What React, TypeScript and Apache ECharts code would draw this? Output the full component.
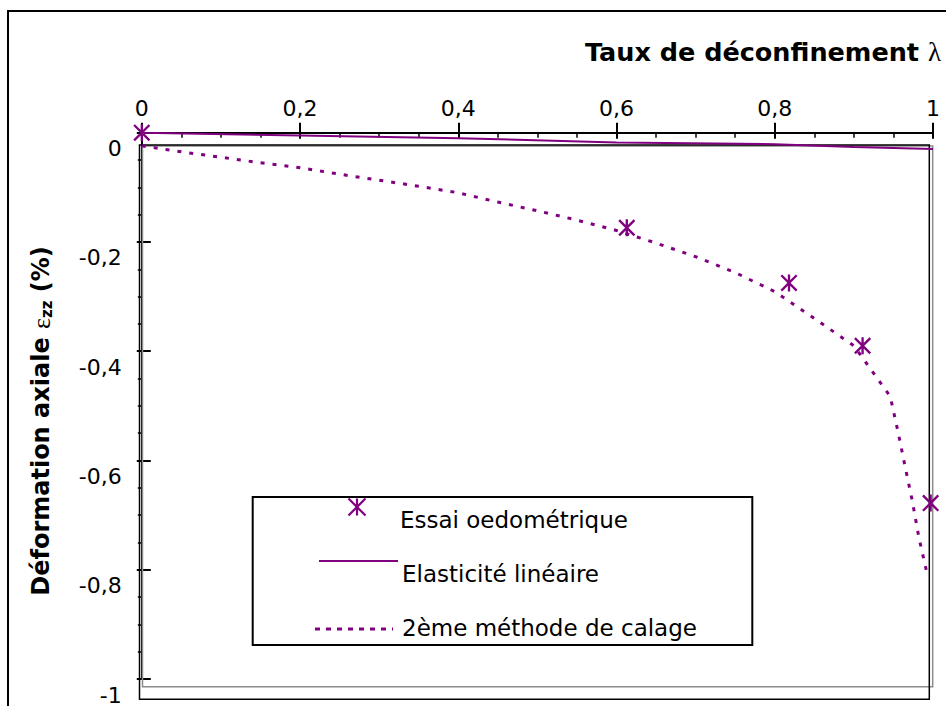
import React, { useEffect, useRef } from "react";
import * as echarts from "echarts";

// ---- Data ----
const essaiLambda = [0, 0.613, 0.818, 0.911, 0.997];
const essaiEps = [0, -0.174, -0.275, -0.39, -0.678];

const elasLambda = [0, 0.2, 0.4, 0.6, 0.8, 0.9, 1];
const elasEps = [0, -0.005, -0.01, -0.018, -0.021, -0.026, -0.03];

const calageLambda = [0, 0.05, 0.1, 0.15, 0.2, 0.25, 0.3, 0.35, 0.4, 0.45, 0.5, 0.55, 0.6, 0.65, 0.7, 0.75, 0.8, 0.85, 0.9, 0.946, 0.956, 0.965, 0.974, 0.982, 0.992];
const calageEps = [-0.024, -0.035, -0.045, -0.055, -0.064, -0.076, -0.087, -0.098, -0.11, -0.127, -0.143, -0.16, -0.179, -0.202, -0.227, -0.256, -0.291, -0.34, -0.39, -0.483, -0.549, -0.613, -0.675, -0.74, -0.804];

const xTickValues = [0, 0.2, 0.4, 0.6, 0.8, 1];
const yTickValues = [0, -0.2, -0.4, -0.6, -0.8, -1];

const seriesNames = ["Essai oedométrique", "Elasticité linéaire", "2ème méthode de calage"];
const titleText = "Taux de déconfinement ";
const titleSymbol = "λ";
const yNameText = "Déformation axiale ";

const PURPLE = "#800080";
const FONT = "DejaVu Sans";

const ASTERISK =
  "path://M6.9,0L9.1,0L9.1,16L6.9,16ZM0,1.56L1.56,0L16,14.44L14.44,16ZM14.44,0L16,1.56L1.56,16L0,14.44Z";

const fmt = (v: number) => {
  const r = Math.round(v * 10) / 10;
  return String(r).replace(".", ",");
};

export default function App() {
  const ref = useRef<HTMLDivElement>(null);

  useEffect(() => {
    const el = ref.current;
    if (!el) return;
    const chart = echarts.init(el, null, { renderer: "svg" });

    const xMin = xTickValues[0];
    const xMax = xTickValues[xTickValues.length - 1];
    const yMin = yTickValues[yTickValues.length - 1];
    const yMax = yTickValues[0];

    const axisCommon = {
      type: "value" as const,
      splitLine: { show: false },
    };

    const lx = 252.7, ly = 497, lw = 499.6, lh = 148;
    const starC = { x: 357, y: 507 };
    const s = 8.5;

    const option: any = {
      animation: false,
      backgroundColor: "#ffffff",
      grid: { left: 141.8, top: 132.7, right: 13, bottom: 18, containLabel: false },
      xAxis: [
        {
          ...axisCommon,
          position: "top",
          min: xMin,
          max: xMax,
          interval: 0.2,
          axisLine: { show: true, onZero: false, lineStyle: { color: "#000", width: 2 } },
          axisTick: { show: true, inside: false, length: 10, lineStyle: { color: "#000", width: 2 } },
          axisLabel: {
            show: true,
            margin: 13,
            color: "#000",
            fontFamily: FONT,
            fontSize: 22,
            formatter: (v: number) => fmt(v),
          },
        },
        {
          ...axisCommon,
          position: "top",
          min: xMin,
          max: xMax,
          interval: 0.2,
          axisLine: { show: false, onZero: false },
          axisLabel: { show: false },
          axisTick: { show: true, inside: true, length: 6, lineStyle: { color: "#000", width: 2 } },
          minorTick: { show: true, splitNumber: 4, length: 5, lineStyle: { color: "#000", width: 1.5 } },
        },
      ],
      yAxis: [
        {
          ...axisCommon,
          position: "left",
          min: yMin,
          max: yMax,
          interval: 0.2,
          axisLine: { show: true, onZero: false, lineStyle: { color: "#000", width: 2 } },
          axisTick: { show: true, inside: true, length: 9, lineStyle: { color: "#000", width: 2 } },
          axisLabel: {
            show: true,
            margin: 20,
            color: "#000",
            fontFamily: FONT,
            fontSize: 22,
            verticalAlign: "top",
            padding: [5, 0, 0, 0],
            formatter: (v: number) => fmt(v),
          },
        },
        {
          ...axisCommon,
          position: "left",
          min: yMin,
          max: yMax,
          interval: 0.2,
          axisLine: { show: false, onZero: false },
          axisLabel: { show: false },
          axisTick: { show: true, inside: false, length: 5, lineStyle: { color: "#000", width: 2 } },
          minorTick: { show: true, splitNumber: 4, length: 4, lineStyle: { color: "#000", width: 1.5 } },
        },
      ],
      series: [
        {
          name: seriesNames[1],
          type: "line",
          data: elasLambda.map((x, i) => [x, elasEps[i]]),
          symbol: "none",
          lineStyle: { color: PURPLE, width: 2 },
          z: 3,
        },
        {
          name: seriesNames[2],
          type: "line",
          data: calageLambda.map((x, i) => [x, calageEps[i]]),
          symbol: "none",
          lineStyle: { color: PURPLE, width: 3, type: [4, 8] },
          z: 3,
        },
        {
          name: seriesNames[0],
          type: "scatter",
          data: essaiLambda.map((x, i) => [x, essaiEps[i]]),
          symbol: ASTERISK,
          symbolSize: 17,
          itemStyle: { color: PURPLE, opacity: 1 },
          clip: false,
          z: 5,
        },
      ],
      graphic: [
        {
          type: "rect",
          z: 0,
          silent: true,
          shape: { x: 8, y: 11, width: 960, height: 720 },
          style: { fill: "none", stroke: "#000", lineWidth: 2 },
        },
        {
          type: "rect",
          z: 1,
          silent: true,
          shape: { x: 142.5, y: 146, width: 790.2, height: 540.7 },
          style: { fill: "none", stroke: "#8c8c8c", lineWidth: 1.5 },
        },
        {
          type: "rect",
          z: 1,
          silent: true,
          shape: { x: 139.5, y: 145, width: 789.8, height: 554.3 },
          style: { fill: "none", stroke: "#000", lineWidth: 1.5 },
        },
        {
          type: "text",
          z: 10,
          x: 941,
          y: 52,
          style: {
            text: "{b|" + titleText + "}{l|" + titleSymbol + "}",
            align: "right",
            verticalAlign: "middle",
            rich: {
              b: { fontFamily: FONT, fontWeight: "bold", fontSize: 25.5, fill: "#000" },
              l: { fontFamily: "Liberation Serif", fontSize: 27, fill: "#000" },
            },
          },
        },
        {
          type: "text",
          z: 10,
          x: 41,
          y: 421,
          rotation: Math.PI / 2,
          style: {
            text: "{b|" + yNameText + "}{e|ε}{s|zz}{b| (%)}",
            align: "center",
            verticalAlign: "middle",
            rich: {
              b: { fontFamily: FONT, fontWeight: "bold", fontSize: 24, fill: "#000" },
              e: { fontFamily: "Liberation Serif", fontSize: 26, fill: "#000" },
              s: { fontFamily: FONT, fontWeight: "bold", fontSize: 15, fill: "#000", verticalAlign: "bottom" },
            },
          },
        },
        {
          type: "group",
          z: 20,
          children: [
            {
              type: "rect",
              shape: { x: lx, y: ly, width: lw, height: lh },
              style: { fill: "#fff", stroke: "#000", lineWidth: 2 },
            },
            {
              type: "line",
              shape: { x1: starC.x, y1: starC.y - s, x2: starC.x, y2: starC.y + s },
              style: { stroke: PURPLE, lineWidth: 2.2 },
            },
            {
              type: "line",
              shape: { x1: starC.x - s, y1: starC.y - s, x2: starC.x + s, y2: starC.y + s },
              style: { stroke: PURPLE, lineWidth: 2.2 },
            },
            {
              type: "line",
              shape: { x1: starC.x + s, y1: starC.y - s, x2: starC.x - s, y2: starC.y + s },
              style: { stroke: PURPLE, lineWidth: 2.2 },
            },
            {
              type: "text",
              x: 400,
              y: 520,
              style: { text: seriesNames[0], fontFamily: FONT, fontSize: 23, fill: "#000", verticalAlign: "middle" },
            },
            {
              type: "line",
              shape: { x1: 319, y1: 561, x2: 398, y2: 561 },
              style: { stroke: PURPLE, lineWidth: 2 },
            },
            {
              type: "text",
              x: 402,
              y: 574,
              style: { text: seriesNames[1], fontFamily: FONT, fontSize: 23, fill: "#000", verticalAlign: "middle" },
            },
            {
              type: "line",
              shape: { x1: 315, y1: 629, x2: 393, y2: 629 },
              style: { stroke: PURPLE, lineWidth: 3, lineDash: [5, 6] },
            },
            {
              type: "text",
              x: 402,
              y: 628,
              style: { text: seriesNames[2], fontFamily: FONT, fontSize: 23, fill: "#000", verticalAlign: "middle" },
            },
          ],
        },
      ],
    };

    chart.setOption(option);
    return () => chart.dispose();
  }, []);

  return (
    <div
      ref={ref}
      style={{ position: "absolute", left: 0, top: 0, width: 946, height: 706, background: "#fff" }}
    />
  );
}
